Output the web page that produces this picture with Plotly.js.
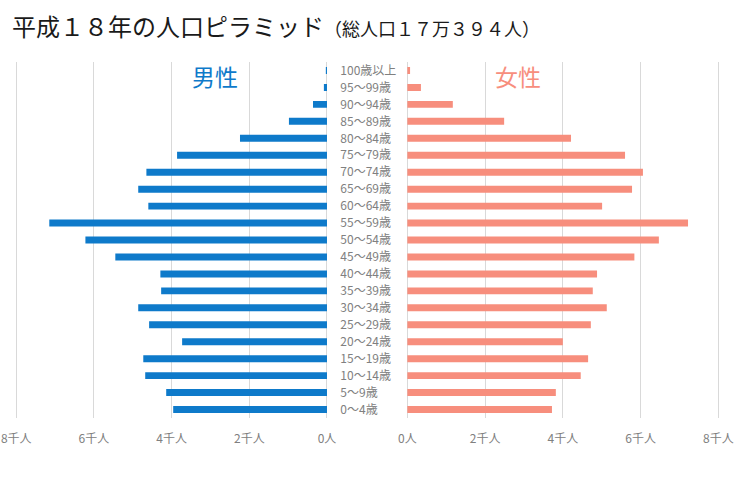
<!DOCTYPE html>
<html>
<head>
<meta charset="utf-8">
<script src="https://cdn.plot.ly/plotly-3.0.1.min.js"></script>
<style>html,body{margin:0;padding:0;background:#fff;}#chart{width:751px;height:483px;}</style>
</head>
<body>
<div id="chart"></div>
<script>
// age groups, bottom to top
const ageGroups = ["0～4歳","5～9歳","10～14歳","15～19歳","20～24歳","25～29歳","30～34歳","35～39歳","40～44歳","45～49歳","50～54歳","55～59歳","60～64歳","65～69歳","70～74歳","75～79歳","80～84歳","85～89歳","90～94歳","95～99歳","100歳以上"];
// population in thousands
const male   = [3.96,4.14,4.68,4.73,3.73,4.58,4.86,4.27,4.29,5.45,6.22,7.15,4.60,4.86,4.65,3.86,2.24,0.98,0.36,0.08,0.03];
const female = [3.72,3.82,4.46,4.65,4.00,4.72,5.13,4.77,4.88,5.84,6.47,7.22,5.01,5.78,6.06,5.60,4.21,2.49,1.17,0.35,0.07];
const tickVals = [0,2,4,6,8];
const tickText = ["0人","2千人","4千人","6千人","8千人"];

const blue = "#0E7ACA";
const salmon = "#F78E7D";
const gray = "#808080";
const font = "'Noto Sans CJK JP', 'Noto Sans', sans-serif";

const traces = [
  {type:"bar", orientation:"h", y:ageGroups, x:male, xaxis:"x", yaxis:"y",
   marker:{color:blue}, name:"男性", hoverinfo:"x+y"},
  {type:"bar", orientation:"h", y:ageGroups, x:female, xaxis:"x2", yaxis:"y2",
   marker:{color:salmon}, name:"女性", hoverinfo:"x+y"}
];

const yDom = [0.1346, 0.8716];
const xCommon = {
  tickvals:tickVals, ticktext:tickText, showgrid:true, gridcolor:"#D9D9D9", gridwidth:1,
  zeroline:false, showline:false, ticks:"outside", ticklen:10, tickcolor:"rgba(0,0,0,0)",
  tickfont:{family:font, size:12, color:gray}, fixedrange:true
};
const layout = {
  width:751, height:483,
  margin:{l:0,r:0,t:0,b:0},
  paper_bgcolor:"#fff", plot_bgcolor:"#fff",
  showlegend:false, bargap:0.59,
  font:{family:font},
  title:{text:"平成１８年の人口ピラミッド<span style='font-size:18px'>（総人口１７万３９４人）</span>",
         x:0.016, xanchor:"left", y:0.942, yanchor:"middle",
         font:{family:font, size:24, color:"#1a1a1a"}},
  xaxis:Object.assign({}, xCommon, {domain:[0.0165,0.438], range:[8.1,-0.05], anchor:"y"}),
  xaxis2:Object.assign({}, xCommon, {domain:[0.5398,0.9617], range:[-0.05,8.1], anchor:"y2"}),
  yaxis:{domain:yDom, anchor:"x", side:"right", type:"category", categoryorder:"array", categoryarray:ageGroups,
         range:[-0.5,20.5], showgrid:false, zeroline:false, showline:false,
         ticks:"outside", ticklen:8, tickcolor:"rgba(0,0,0,0)",
         tickfont:{family:font, size:12, color:gray}, fixedrange:true},
  yaxis2:{domain:yDom, anchor:"x2", type:"category", categoryorder:"array", categoryarray:ageGroups,
          range:[-0.5,20.5], showgrid:false, zeroline:false, showline:false, showticklabels:false, fixedrange:true},
  annotations:[
    {text:"男性", xref:"paper", yref:"paper", x:0.2863, y:0.842, xanchor:"center", yanchor:"middle",
     showarrow:false, font:{family:font, size:23, color:blue}},
    {text:"女性", xref:"paper", yref:"paper", x:0.6897, y:0.842, xanchor:"center", yanchor:"middle",
     showarrow:false, font:{family:font, size:23, color:salmon}}
  ]
};
Plotly.newPlot("chart", traces, layout, {displayModeBar:false, staticPlot:true});
</script>
</body>
</html>
